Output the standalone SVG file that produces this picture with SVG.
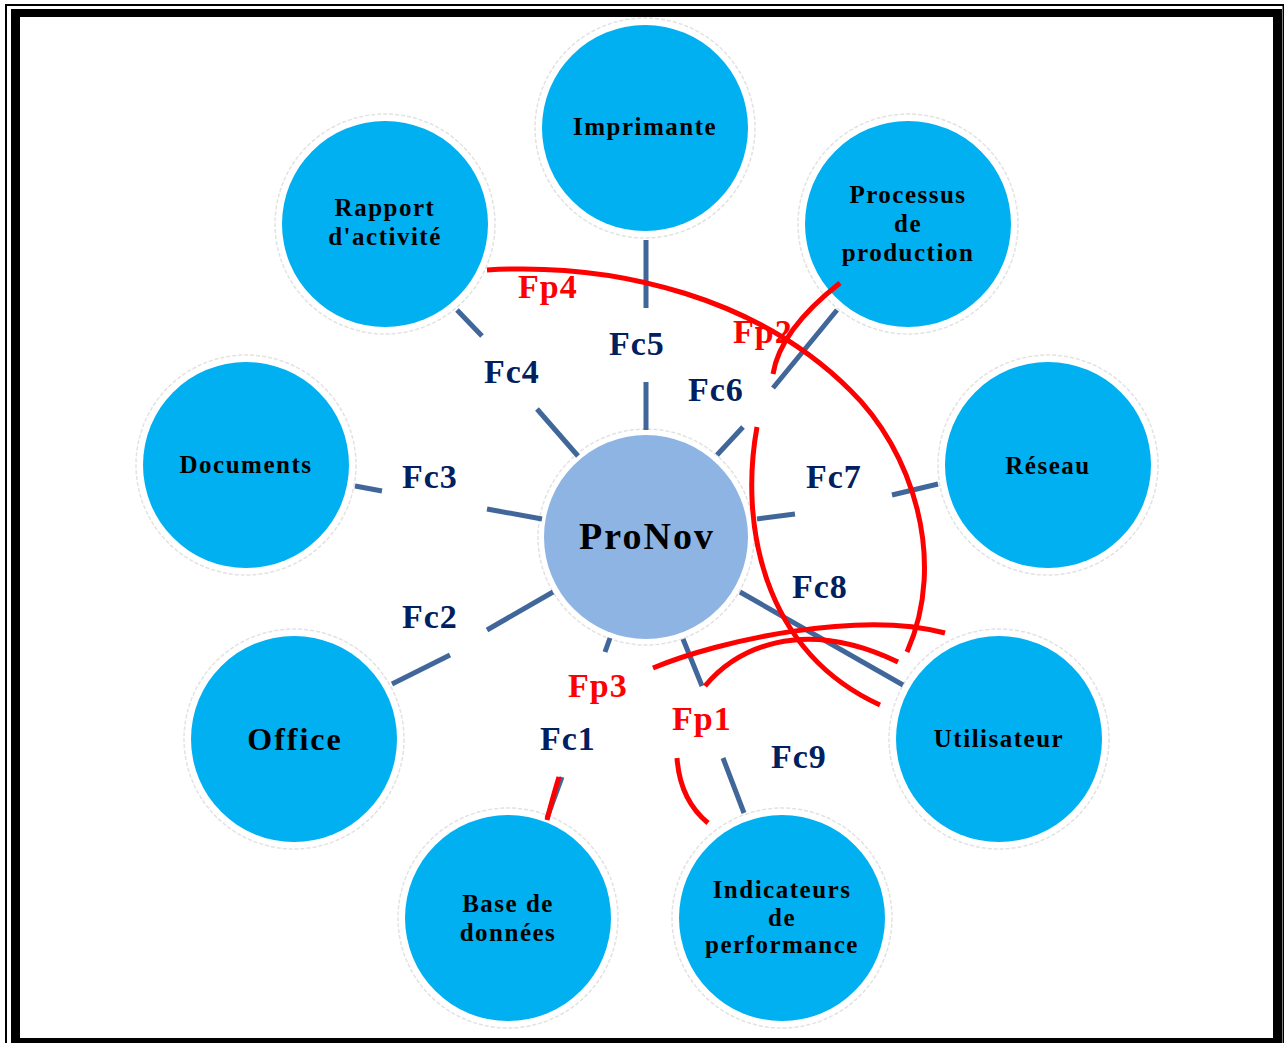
<svg xmlns="http://www.w3.org/2000/svg" width="1284" height="1043" viewBox="0 0 1284 1043">
<style>
.halo{fill:#fff;stroke:#e2e2e2;stroke-width:1.5;stroke-dasharray:4 2}
.outer{fill:#00B0F0}
.center{fill:#8EB4E3}
.nt{font-family:"Liberation Serif","Times New Roman",serif;font-weight:bold;font-size:25px;fill:#000;text-anchor:middle;letter-spacing:1.5px}
.conn{stroke:#41679A;stroke-width:5;fill:none}
.fp{stroke:#FF0000;stroke-width:5;fill:none}
.lc{font-family:"Liberation Serif","Times New Roman",serif;font-weight:bold;font-size:34px;fill:#002060;letter-spacing:1px}
.lp{font-family:"Liberation Serif","Times New Roman",serif;font-weight:bold;font-size:34px;fill:#FF0000;letter-spacing:1px}
</style>
<rect x="0" y="0" width="1284" height="1043" fill="#fff"/>
<g id="frame">
<path d="M6,1043 V5 H1283.5 V1043" fill="none" stroke="#000" stroke-width="2"/>
<path d="M11,1043 V9 H1282 V1043 Z M20,17 V1038 H1273 V17 Z" fill="#000" fill-rule="evenodd"/>
</g>
<g id="node-imprimante"><circle class="halo" cx="645" cy="128" r="110"/><circle class="outer" cx="645" cy="128" r="103"/><text class="nt" x="645" y="135">Imprimante</text></g>
<g id="node-rapport"><circle class="halo" cx="385" cy="224" r="110"/><circle class="outer" cx="385" cy="224" r="103"/><text class="nt" x="385" y="216">Rapport</text><text class="nt" x="385" y="245">d'activité</text></g>
<g id="node-processus"><circle class="halo" cx="908" cy="224" r="110"/><circle class="outer" cx="908" cy="224" r="103"/><text class="nt" x="908" y="203">Processus</text><text class="nt" x="908" y="232">de</text><text class="nt" x="908" y="261">production</text></g>
<g id="node-documents"><circle class="halo" cx="246" cy="465" r="110"/><circle class="outer" cx="246" cy="465" r="103"/><text class="nt" x="246" y="473">Documents</text></g>
<g id="node-reseau"><circle class="halo" cx="1048" cy="465" r="110"/><circle class="outer" cx="1048" cy="465" r="103"/><text class="nt" x="1048" y="474">Réseau</text></g>
<g id="node-office"><circle class="halo" cx="294" cy="739" r="110"/><circle class="outer" cx="294" cy="739" r="103"/><text class="nt" x="295" y="750" style="font-size:32px;letter-spacing:2px">Office</text></g>
<g id="node-utilisateur"><circle class="halo" cx="999" cy="739" r="110"/><circle class="outer" cx="999" cy="739" r="103"/><text class="nt" x="999" y="747">Utilisateur</text></g>
<g id="node-base"><circle class="halo" cx="508" cy="918" r="110"/><circle class="outer" cx="508" cy="918" r="103"/><text class="nt" x="508" y="912">Base de</text><text class="nt" x="508" y="941">données</text></g>
<g id="node-indicateurs"><circle class="halo" cx="782" cy="918" r="110"/><circle class="outer" cx="782" cy="918" r="103"/><text class="nt" x="782" y="898">Indicateurs</text><text class="nt" x="782" y="926">de</text><text class="nt" x="782" y="953">performance</text></g>
<g id="node-pronov"><circle class="halo" cx="646" cy="537" r="108"/><circle class="center" cx="646" cy="537" r="102"/><text class="nt" x="647" y="549" style="font-size:38px;letter-spacing:2px">ProNov</text></g>
<g id="connectors">
<path class="conn" d="M646,240 V308 M646,382 V430"/>
<path class="conn" d="M457,310 L482,336 M537,409 L578,456"/>
<path class="conn" d="M837,310 L773,388 M743,427 L717,455"/>
<path class="conn" d="M355,486 L382,491 M487,509 L542,519"/>
<path class="conn" d="M487,630 L553,592 M392,684 L450,655"/>
<path class="conn" d="M757,519 L795,514 M892,495 L938,484"/>
<path class="conn" d="M740,592 L903,685"/>
<path class="conn" d="M683,639 L702,686 M723,758 L744,813"/>
<path class="conn" d="M610,638 L605,652 M562,777 L547,818"/>
<path class="fp" d="M487,270 C620,262 760,300 850,390 C912,450 948,560 907,652"/>
<path class="fp" d="M840,283 Q780,330 773,374 M757,427 C740,520 760,650 880,705"/>
<path class="fp" d="M559,777 Q552,800 547,820 M653,668 C720,640 860,610 945,633"/>
<path class="fp" d="M677,758 Q680,800 708,823 M705,686 C735,650 800,615 898,662"/>
</g>
<g id="labels">
<text class="lp" x="518" y="298">Fp4</text>
<text class="lc" x="609" y="355">Fc5</text>
<text class="lc" x="484" y="383">Fc4</text>
<text class="lp" x="733" y="343">Fp2</text>
<text class="lc" x="688" y="401">Fc6</text>
<text class="lc" x="402" y="488">Fc3</text>
<text class="lc" x="806" y="488">Fc7</text>
<text class="lc" x="792" y="598">Fc8</text>
<text class="lc" x="402" y="628">Fc2</text>
<text class="lp" x="568" y="697">Fp3</text>
<text class="lc" x="540" y="750">Fc1</text>
<text class="lp" x="672" y="730">Fp1</text>
<text class="lc" x="771" y="768">Fc9</text>
</g>
</svg>
